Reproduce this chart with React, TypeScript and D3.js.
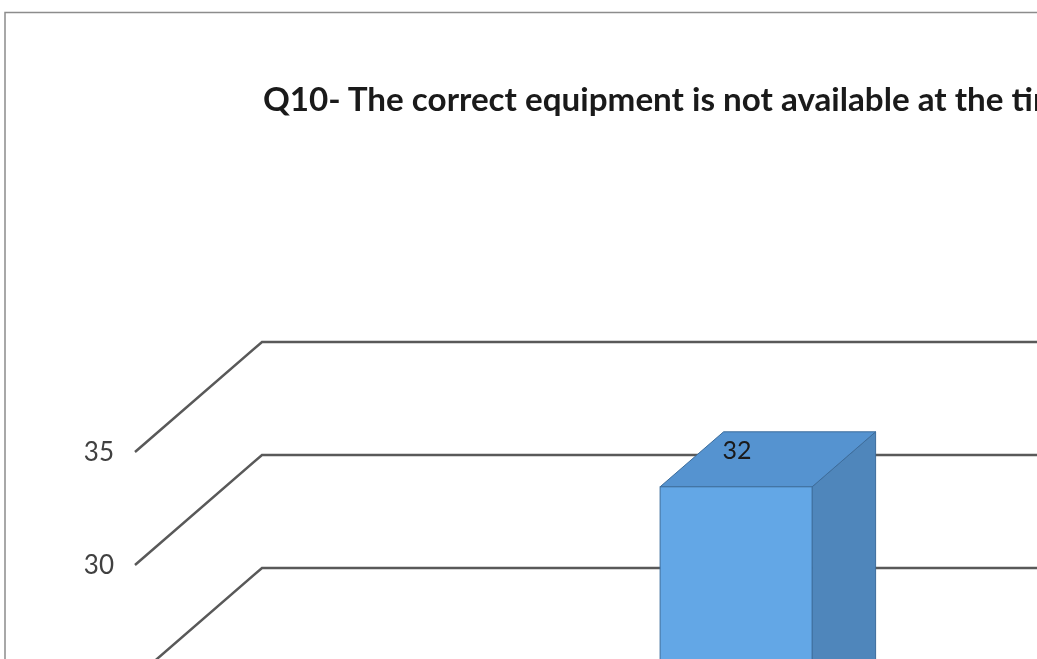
import { useEffect, useRef } from "react"
import * as d3 from "d3"

const categories = ["Q10"]
const values = [32]
const yTicks = [0, 5, 10, 15, 20, 25, 30, 35]
const title = "Q10- The correct equipment is not available at the time"

const width = 1037
const height = 659

// depth of the 3D floor/walls
const depthX = 127
const depthY = -110
const barDepth0 = 0.3
const barDepth1 = 0.8

const App = () => {
    const ref = useRef<SVGSVGElement>(null)

    useEffect(() => {
        const svg = d3.select(ref.current)
        svg.selectAll("*").remove()

        const x = d3.scaleBand()
            .domain(categories)
            .range([546, 850])
            .paddingInner(0)
            .paddingOuter(0.5)
        const y = d3.scaleLinear()
            .domain([0, 35])
            .range([452 + 35 * 22.6, 452])

        const plotLeft = 135

        // chart border
        svg.append("rect")
            .attr("x", 5)
            .attr("y", 12.5)
            .attr("width", width + 20)
            .attr("height", height + 20)
            .attr("fill", "white")
            .attr("stroke", "#8c8c8c")
            .attr("stroke-width", 1.5)

        svg.append("text")
            .attr("x", 263)
            .attr("y", 111)
            .attr("font-family", "Lato, 'Open Sans', sans-serif")
            .attr("font-weight", "bold")
            .attr("font-size", 33.2)
            .attr("fill", "#1a1a1a")
            .text(title)

        // gridlines: diagonal on the side wall, horizontal on back wall
        const grid = svg.append("g")
            .attr("stroke", "#595959")
            .attr("stroke-width", 2.5)
            .attr("fill", "none")
        grid.selectAll("path")
            .data(yTicks)
            .enter()
            .append("path")
            .attr("d", d => {
                const p = d3.path()
                p.moveTo(plotLeft, y(d))
                p.lineTo(plotLeft + depthX, y(d) + depthY)
                p.lineTo(width + 10, y(d) + depthY)
                return p.toString()
            })

        svg.append("g")
            .selectAll("text")
            .data(yTicks.filter(d => y(d) < height - 15))
            .enter()
            .append("text")
            .attr("x", 114)
            .attr("y", d => y(d))
            .attr("dy", "0.35em")
            .attr("text-anchor", "end")
            .attr("font-family", "Lato, 'Open Sans', sans-serif")
            .attr("font-size", 26)
            .attr("fill", "#404040")
            .text(d => d)

        // 3D bars
        const bars = svg.append("g")
        categories.forEach((c, i) => {
            const x0 = x(c)! + barDepth0 * depthX
            const w = x.bandwidth()
            const top = y(values[i]) + barDepth0 * depthY
            const bottom = y(0) + barDepth0 * depthY
            const dx = (barDepth1 - barDepth0) * depthX
            const dy = (barDepth1 - barDepth0) * depthY

            bars.append("path")
                .attr("d", `M${x0 + w},${top} L${x0 + w + dx},${top + dy} L${x0 + w + dx},${bottom + dy} L${x0 + w},${bottom} Z`)
                .attr("fill", "#4f86bb")
                .attr("stroke", "#3d6d9c")
                .attr("stroke-width", 1)
            bars.append("path")
                .attr("d", `M${x0},${top} L${x0 + dx},${top + dy} L${x0 + w + dx},${top + dy} L${x0 + w},${top} Z`)
                .attr("fill", "#5593d0")
                .attr("stroke", "#3d6d9c")
                .attr("stroke-width", 1)
            bars.append("rect")
                .attr("x", x0)
                .attr("y", top)
                .attr("width", w)
                .attr("height", bottom - top)
                .attr("fill", "#63a7e6")
                .attr("stroke", "#3d6d9c")
                .attr("stroke-width", 1)

            bars.append("text")
                .attr("x", x0 + dx - 1)
                .attr("y", top + dy + 27)
                .attr("font-family", "Lato, 'Open Sans', sans-serif")
                .attr("font-size", 25)
                .attr("fill", "#1a1a1a")
                .text(values[i])
        })
    }, [])

    return (
        <div style={{ position: "fixed", left: 0, top: 0 }}>
            <svg ref={ref} width={width} height={height} style={{ display: "block" }} />
        </div>
    )
}

export default App
